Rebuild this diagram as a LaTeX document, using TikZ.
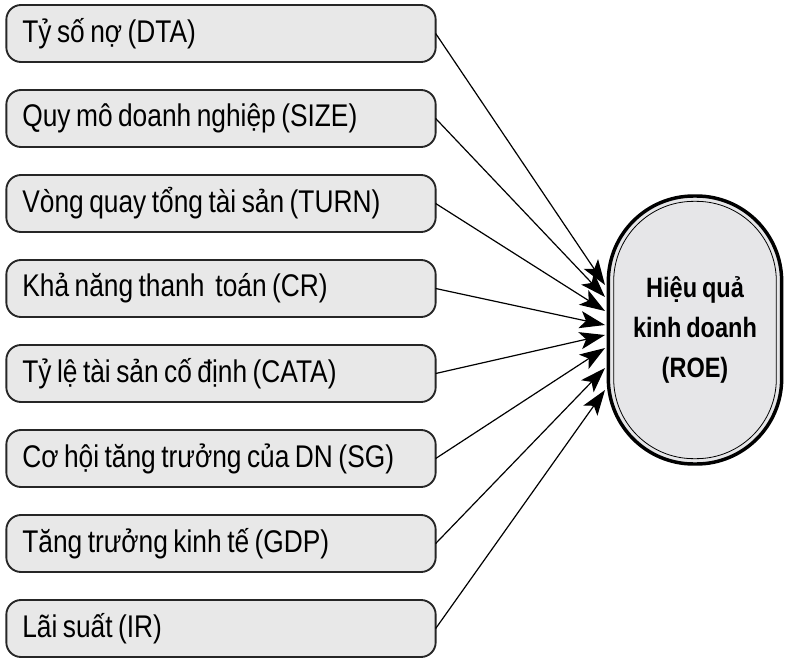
\documentclass[tikz,border=0pt]{standalone}
\usepackage{fontspec}
\setmainfont{Liberation Sans}[FakeStretch=0.84, WordSpace=0.75]
\usepackage{tikz}
\usetikzlibrary{positioning,arrows.meta}
\definecolor{boxgray}{HTML}{E8E8E8}
\definecolor{roegray}{HTML}{E6E6E8}
\tikzset{
  factor/.style ={rectangle, rounded corners=11pt, draw=black!85, line width=1.4pt,
                  fill=boxgray, align=flush left, inner xsep=12pt, inner ysep=0pt, outer sep=0pt,
                  text width=298pt, minimum height=42.75pt,
                  font=\fontsize{23.5}{25}\selectfont},
  result/.style ={rectangle, rounded corners=64pt, draw=black, line width=2.6pt,
                  fill=roegray, align=center, minimum width=130pt, minimum height=201pt,
                  font=\fontsize{21}{30}\selectfont\bfseries},
  arr/.style    ={-{Stealth[length=19pt, width=13pt, inset=4.5pt]}, line width=0.9pt, draw=black},
}

\begin{document}
\begin{tikzpicture}[x=0.75pt, y=-0.75pt, node distance=21pt]
  \useasboundingbox (0,0) rectangle (791,663);

  \node[factor] (dta) at (221,33.5) {Tỷ số nợ (DTA)};
  \node[factor, below=of dta]  (size) {Quy mô doanh nghiệp (SIZE)};
  \node[factor, below=of size] (turn) {Vòng quay tổng tài sản (TURN)};
  \node[factor, below=of turn] (cr)   {Khả năng thanh\ \ toán (CR)};
  \node[factor, below=of cr]   (cata) {Tỷ lệ tài sản cố định (CATA)};
  \node[factor, below=of cata] (sg)   {Cơ hội tăng trưởng của DN (SG)};
  \node[factor, below=of sg]   (gdp)  {Tăng trưởng kinh tế (GDP)};
  \node[factor, below=of gdp]  (ir)   {Lãi suất (IR)};

  \node[result] (roe) at (695,330) {Hiệu quả\\kinh doanh\\(ROE)};
  \node[rectangle, rounded corners=60pt, draw=black, line width=0.6pt,
        minimum width=122pt, minimum height=193pt] (roein) at (roe.center) {};

  % arrow tips on the left side of ROE
  \coordinate (t1) at (605,285);
  \coordinate (t2) at (605,297);
  \coordinate (t3) at (605,311);
  \coordinate (t4) at (605,325);
  \coordinate (t5) at (605,335);
  \coordinate (t6) at (605,348);
  \coordinate (t7) at (605,368);
  \coordinate (t8) at (605,390);

  \draw[arr] (dta.east)  -- (t1);
  \draw[arr] (size.east) -- (t2);
  \draw[arr] (turn.east) -- (t3);
  \draw[arr] (cr.east)   -- (t4);
  \draw[arr] (cata.east) -- (t5);
  \draw[arr] (sg.east)   -- (t6);
  \draw[arr] (gdp.east)  -- (t7);
  \draw[arr] (ir.east)   -- (t8);
\end{tikzpicture}
\end{document}
